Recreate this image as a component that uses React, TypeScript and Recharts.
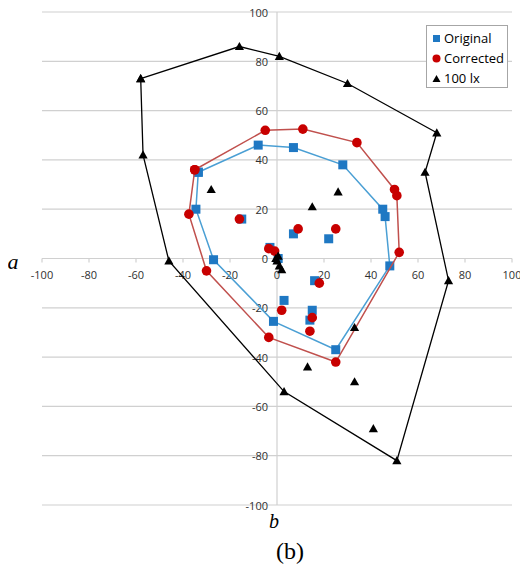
import React from 'react';
import { ScatterChart, Scatter, XAxis, YAxis, ReferenceLine, ReferenceDot, Legend } from 'recharts';

const xTicks = [-100, -80, -60, -40, -20, 0, 20, 40, 60, 80, 100];
const yTicks = [-100, -80, -60, -40, -20, 0, 20, 40, 60, 80, 100];

const originalHull = [
  { x: -33.5, y: 35 }, { x: -8, y: 46 }, { x: 7, y: 45 }, { x: 28, y: 38 }, { x: 45, y: 20 },
  { x: 46, y: 17 }, { x: 48, y: -3 }, { x: 25, y: -37 }, { x: -1.5, y: -25.5 }, { x: -27, y: -0.5 },
  { x: -34.5, y: 20 }, { x: -33.5, y: 35 },
];
const originalInner = [
  { x: -15, y: 16 }, { x: 7, y: 10 }, { x: 22, y: 8 }, { x: -3, y: 4.5 }, { x: 0.5, y: 0 },
  { x: 16, y: -9 }, { x: 3, y: -17 }, { x: 15, y: -21 }, { x: 14, y: -25 },
];
const correctedHull = [
  { x: -35, y: 36 }, { x: -5, y: 52 }, { x: 11, y: 52.5 }, { x: 34, y: 47 }, { x: 50, y: 28 },
  { x: 51, y: 25.5 }, { x: 52, y: 2.5 }, { x: 25, y: -42 }, { x: -3.5, y: -32 }, { x: -30, y: -5 },
  { x: -37.5, y: 18 }, { x: -35, y: 36 },
];
const correctedInner = [
  { x: -16, y: 16 }, { x: 9, y: 12 }, { x: 25, y: 12 }, { x: -3.5, y: 4 }, { x: -1, y: 3 },
  { x: 18, y: -10 }, { x: 2, y: -21 }, { x: 15, y: -24 }, { x: 14, y: -29.5 },
];
const luxHull = [
  { x: -58, y: 73 }, { x: -16, y: 86 }, { x: 1, y: 82 }, { x: 30, y: 71 }, { x: 68, y: 51 },
  { x: 63, y: 35 }, { x: 73, y: -9 }, { x: 51, y: -82 }, { x: 3, y: -54 }, { x: -46, y: -1 },
  { x: -57, y: 42 }, { x: -58, y: 73 },
];
const luxInner = [
  { x: -28, y: 28 }, { x: 26, y: 27 }, { x: 15, y: 21 }, { x: 33, y: -28 }, { x: 13, y: -44 },
  { x: 33, y: -50 }, { x: 41, y: -69 }, { x: 0, y: -1 }, { x: 1, y: -3 }, { x: 0.5, y: 1 },
  { x: 2, y: -4.5 }, { x: -0.5, y: 0 },
];

const BLUE = '#1f78c3';
const BLUE_LINE = '#4a9fd4';
const RED = '#c80000';
const RED_LINE = '#c0504d';
const GRID = '#d0d0d0';
const TICK_COLOR = '#303030';
const FONT = '"Open Sans", "Noto Sans", sans-serif';

const Square = (p: any) => <rect x={p.cx - 4.5} y={p.cy - 4.5} width={9} height={9} fill={BLUE} />;
const Circle = (p: any) => <circle cx={p.cx} cy={p.cy} r={4.8} fill={RED} />;
const Triangle = (p: any) => (
  <path d={`M${p.cx},${p.cy - 4.6} L${p.cx + 4.6},${p.cy + 3.6} L${p.cx - 4.6},${p.cy + 3.6} Z`} fill="#000" />
);

const LegendBox = () => (
  <div
    style={{
      border: '1px solid #a6a6a6',
      background: '#fff',
      width: 82,
      height: 63,
      boxSizing: 'border-box',
      fontFamily: FONT,
      fontSize: 13,
      color: '#000',
      padding: '2px 0 0 5px',
    }}
  >
    {[
      { label: 'Original', m: <rect x={1} y={1} width={7} height={7} fill={BLUE} /> },
      { label: 'Corrected', m: <circle cx={4.5} cy={4.5} r={4} fill={RED} /> },
      { label: '100 lx', m: <path d="M4.5,1 L8.5,8 L0.5,8 Z" fill="#000" /> },
    ].map((it) => (
      <div key={it.label} style={{ display: 'flex', alignItems: 'center', height: 20, whiteSpace: 'nowrap' }}>
        <svg width={9} height={9} style={{ marginRight: 3 }}>{it.m}</svg>
        <span>{it.label}</span>
      </div>
    ))}
  </div>
);

const txt: React.CSSProperties = {
  position: 'absolute',
  fontFamily: '"Liberation Serif", "DejaVu Serif", serif',
  lineHeight: 1,
  transform: 'translate(-50%, -50%)',
  color: '#000',
};

export default function App() {
  return (
    <div style={{ position: 'relative', width: 520, height: 558 }}>
      <style>{'.recharts-surface{overflow:visible}'}</style>
      <ScatterChart width={520} height={558} margin={{ top: 4, right: 16, bottom: 61, left: 34 }}>
        <XAxis type="number" dataKey="x" domain={[-100, 100]} ticks={xTicks} hide />
        <YAxis type="number" dataKey="y" domain={[-100, 100]} ticks={yTicks} hide />
        {yTicks.map((v) => (
          <ReferenceLine key={'g' + v} y={v} stroke={GRID} strokeWidth={1.2} />
        ))}
        <ReferenceLine x={0} stroke={GRID} strokeWidth={1.2} />
        {xTicks.map((v) => (
          <ReferenceDot
            key={'xt' + v}
            x={v}
            y={0}
            r={0}
            shape={(p: any) => (
              <g>
                <line x1={p.cx} x2={p.cx} y1={p.cy} y2={p.cy + 4} stroke={GRID} strokeWidth={1.2} />
                <text x={p.cx} y={p.cy + 16} textAnchor="middle" dominantBaseline="central" fontFamily={FONT} fontSize={11} fill={TICK_COLOR}>
                  {v}
                </text>
              </g>
            )}
          />
        ))}
        {yTicks.map((v) => (
          <ReferenceDot
            key={'yt' + v}
            x={0}
            y={v}
            r={0}
            shape={(p: any) => (
              <text x={p.cx - 9} y={p.cy} textAnchor="end" dominantBaseline="central" fontFamily={FONT} fontSize={11} fill={TICK_COLOR}>
                {v}
              </text>
            )}
          />
        ))}
        <Scatter data={originalHull} line={{ stroke: BLUE_LINE, strokeWidth: 1.5 }} lineType="joint" shape={Square} isAnimationActive={false} />
        <Scatter data={originalInner} shape={Square} isAnimationActive={false} />
        <Scatter data={correctedHull} line={{ stroke: RED_LINE, strokeWidth: 1.5 }} lineType="joint" shape={Circle} isAnimationActive={false} />
        <Scatter data={correctedInner} shape={Circle} isAnimationActive={false} />
        <Scatter data={luxHull} line={{ stroke: '#000', strokeWidth: 1.3 }} lineType="joint" shape={Triangle} isAnimationActive={false} />
        <Scatter data={luxInner} shape={Triangle} isAnimationActive={false} />
        <Legend
          layout="vertical"
          align="center"
          verticalAlign="middle"
          content={() => <LegendBox />}
          wrapperStyle={{ left: 418, top: 17, width: 82, height: 63 }}
        />
      </ScatterChart>
      <span style={{ ...txt, left: 5, top: 254, fontSize: 22, fontStyle: 'italic' }}>a</span>
      <span style={{ ...txt, left: 266, top: 513, fontSize: 20, fontStyle: 'italic' }}>b</span>
      <span style={{ ...txt, left: 282, top: 543, fontSize: 24 }}>(b)</span>
    </div>
  );
}
